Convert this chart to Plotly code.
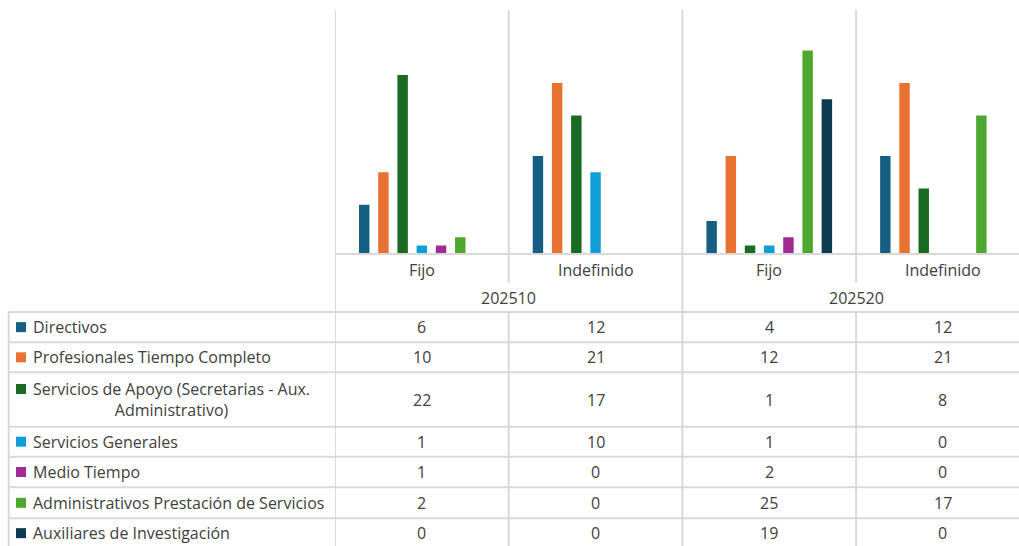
import plotly.graph_objects as go

# ---------------- data ----------------
periods = ["202510", "202520"]
contract_types = ["Fijo", "Indefinido", "Fijo", "Indefinido"]
series_names = [
    "Directivos",
    "Profesionales Tiempo Completo",
    "Servicios de Apoyo (Secretarias - Aux. Administrativo)",
    "Servicios Generales",
    "Medio Tiempo",
    "Administrativos Prestación de Servicios",
    "Auxiliares de Investigación",
]
table_labels = [
    "Directivos",
    "Profesionales Tiempo Completo",
    "Servicios de Apoyo (Secretarias - Aux.<br>Administrativo)",
    "Servicios Generales",
    "Medio Tiempo",
    "Administrativos Prestación de Servicios",
    "Auxiliares de Investigación",
]
directivos = [6, 12, 4, 12]
profesionales = [10, 21, 12, 21]
servicios_apoyo = [22, 17, 1, 8]
servicios_generales = [1, 10, 1, 0]
medio_tiempo = [1, 0, 2, 0]
admin_prestacion = [2, 0, 25, 17]
auxiliares_inv = [0, 0, 19, 0]
series_values = [directivos, profesionales, servicios_apoyo, servicios_generales,
                 medio_tiempo, admin_prestacion, auxiliares_inv]
colors = ["#156082", "#E97132", "#196B24", "#0F9ED5", "#A02B93", "#4EA72E", "#0E3A52"]

# ---------------- layout geometry (screen pixels) ----------------
OFF = 0                      # page body margin removed via post_script
W, H = 1019 - OFF, 546 - OFF
PLOT_LEFT = 335
PLOT_TOP = 10
PLOT_BOTTOM = 253.5
CAT_W = 173.7
TABLE_LEFT = 8.7
ROW_LINES = [312, 342.3, 372.3, 426.7, 456.7, 487.3, 518.3]
ROW_BOTTOM = 546
GRID = "#d9d9d9"
TEXT = "#404040"
FONT = "Open Sans"
FS = 16


def px(x):
    return (x - OFF) / W


def py(y):
    return 1 - (y - OFF) / H


xpos = list(range(len(contract_types)))

fig = go.Figure()
for name, vals, col in zip(series_names, series_values, colors):
    fig.add_trace(go.Bar(x=xpos, y=vals, name=name, marker=dict(color=col, line=dict(width=0)),
                         hovertemplate="%{y}<extra>" + name + "</extra>"))

shapes = []
# vertical separators (category boundaries) via the x axis
for i in range(len(contract_types) + 1):
    xb = i - 0.5
    if i % 2 == 0:
        shapes.append(dict(type="line", xref="x", yref="paper", x0=xb, x1=xb,
                           y0=py(PLOT_TOP), y1=py(ROW_BOTTOM), line=dict(color=GRID, width=2)))
    else:
        shapes.append(dict(type="line", xref="x", yref="paper", x0=xb, x1=xb,
                           y0=py(PLOT_TOP), y1=py(282.5), line=dict(color=GRID, width=2)))
        shapes.append(dict(type="line", xref="x", yref="paper", x0=xb, x1=xb,
                           y0=py(ROW_LINES[0]), y1=py(ROW_BOTTOM), line=dict(color=GRID, width=2)))
# baseline
shapes.append(dict(type="line", xref="paper", yref="paper", x0=px(PLOT_LEFT), x1=1,
                   y0=py(PLOT_BOTTOM + 0.5), y1=py(PLOT_BOTTOM + 0.5), line=dict(color=GRID, width=2)))
# table rows
for yl in ROW_LINES:
    shapes.append(dict(type="line", xref="paper", yref="paper", x0=px(TABLE_LEFT), x1=1,
                       y0=py(yl), y1=py(yl), line=dict(color=GRID, width=2)))
shapes.append(dict(type="line", xref="paper", yref="paper", x0=px(TABLE_LEFT), x1=px(TABLE_LEFT),
                   y0=py(ROW_LINES[0]), y1=py(ROW_BOTTOM), line=dict(color=GRID, width=2)))

annotations = []
font = dict(family=FONT, size=FS, color=TEXT)
for i, ct in enumerate(contract_types):
    annotations.append(dict(x=i, xref="x", y=py(270), yref="paper", text=ct, showarrow=False,
                            font=font, xanchor="center", yanchor="middle"))
for j, p in enumerate(periods):
    annotations.append(dict(x=2 * j + 0.5, xref="x", y=py(297.5), yref="paper", text=p, showarrow=False,
                            font=font, xanchor="center", yanchor="middle"))

row_edges = ROW_LINES + [548]
for k, (lab, vals, col) in enumerate(zip(table_labels, series_values, colors)):
    y0, y1 = row_edges[k], row_edges[k + 1]
    yc = (y0 + y1) / 2
    wrapped = "<br>" in lab
    key_y = yc - 10.5 if wrapped else yc
    shapes.append(dict(type="rect", xref="paper", yref="paper", x0=px(16), x1=px(26),
                       y0=py(key_y - 5), y1=py(key_y + 5), fillcolor=col, line=dict(width=0)))
    annotations.append(dict(x=px(31), xref="paper", y=py(yc), yref="paper", text=lab, showarrow=False,
                            font=font, xanchor="left", yanchor="middle", align="center"))
    for i, v in enumerate(vals):
        annotations.append(dict(x=i, xref="x", y=py(yc), yref="paper", text=str(v), showarrow=False,
                                font=font, xanchor="center", yanchor="middle"))

fig.update_layout(
    width=W, height=H,
    margin=dict(l=0, r=0, t=0, b=0),
    paper_bgcolor="white", plot_bgcolor="white",
    barmode="group", bargap=0.226, bargroupgap=0.456,
    showlegend=False,
    font=font,
    xaxis=dict(domain=[px(PLOT_LEFT), 1], range=[-0.5, -0.5 + (1019 - PLOT_LEFT) / CAT_W],
               showticklabels=False, showgrid=False, zeroline=False, showline=False, ticks="",
               fixedrange=True),
    yaxis=dict(domain=[py(PLOT_BOTTOM), py(PLOT_TOP)], range=[0, 30], showticklabels=False,
               showgrid=False, zeroline=False, showline=False, ticks="", fixedrange=True),
    shapes=shapes,
    annotations=annotations,
)

fig.write_html("out.html", config={"displayModeBar": False},
               post_script="document.body.style.margin='0';document.body.style.overflow='hidden';")
